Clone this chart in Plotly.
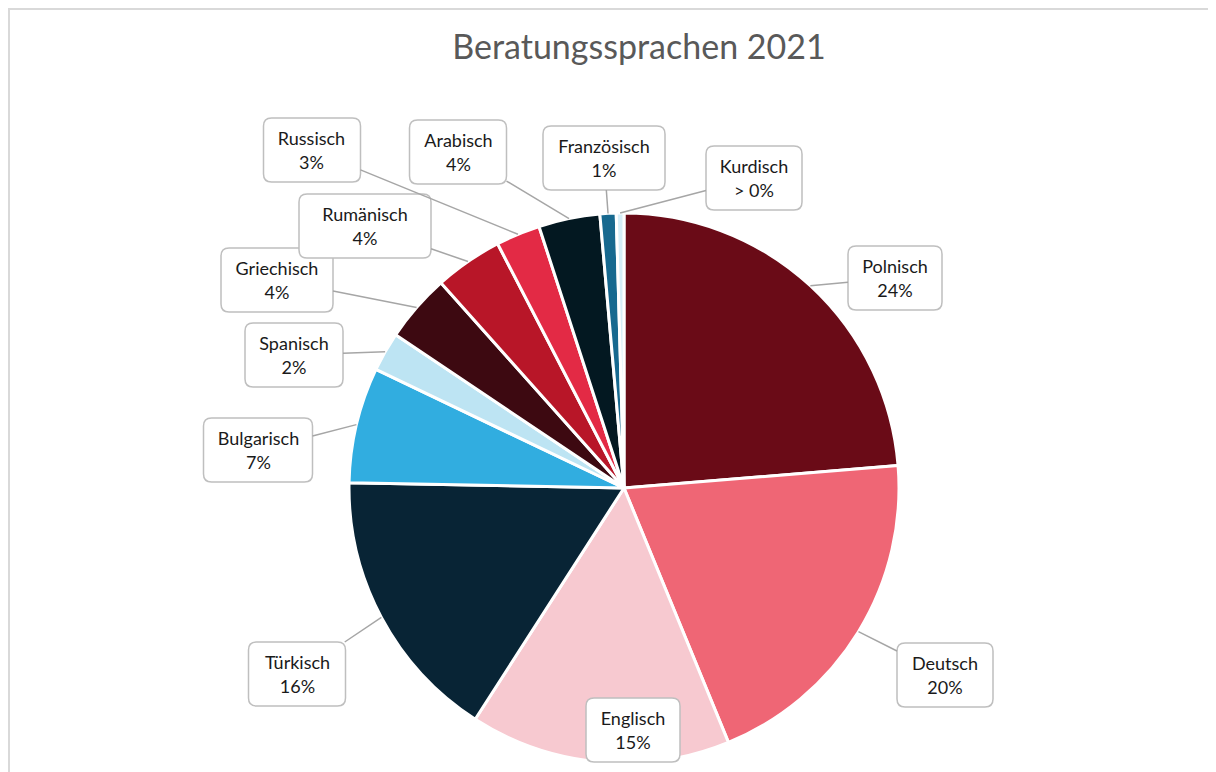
"""Kreisdiagramm: Beratungssprachen 2021."""

import numpy as np
import plotly.graph_objects as go

# --- Daten ---
sprachen = ["Polnisch", "Deutsch", "Englisch", "Türkisch", "Bulgarisch", "Spanisch",
            "Griechisch", "Rumänisch", "Russisch", "Arabisch", "Französisch", "Kurdisch"]
anteile = [23.7, 20.1, 15.3, 16.2, 6.8, 2.3, 4.0, 4.0, 2.6, 3.6, 0.95, 0.45]
anteil_text = ["24%", "20%", "15%", "16%", "7%", "2%", "4%", "4%", "3%", "4%", "1%", "> 0%"]
farben = ["#6A0B17", "#EF6675", "#F7C9D0", "#082435", "#31ADE0", "#BDE4F3",
          "#3D0911", "#B81628", "#E32A45", "#031821", "#17698F", "#D6EEF8"]

# --- Layout (Pixel im Fenster; die Seite hat 8 px Rand) ---
OFF = 8
W, H = 1216 - OFF, 772 - OFF
cx, cy, r = 624 - OFF, 488 - OFF, 275
# Mittelpunkt der Beschriftungsboxen und Boxbreite
box_pos = [(895, 278), (945, 675), (633, 730), (297, 674), (258, 450), (294, 355),
           (277, 280), (365, 226), (312, 150), (458, 152), (604, 158), (754, 178)]
box_w = [94, 96, 94, 97, 109, 98, 112, 132, 97, 97, 122, 96]
box_h = 64
mit_linie = [True, True, False, True, True, True, True, True, True, True, True, True]


def px2paper(x, y):
    return x / W, 1 - y / H


def rounded_box(a, b, k=8):
    """SVG-Pfad eines abgerundeten Rechtecks um (0, 0) in Pixeln."""
    return (f"M {-a + k},{-b} L {a - k},{-b} Q {a},{-b} {a},{-b + k} "
            f"L {a},{b - k} Q {a},{b} {a - k},{b} L {-a + k},{b} "
            f"Q {-a},{b} {-a},{b - k} L {-a},{-b + k} Q {-a},{-b} {-a + k},{-b} Z")


fig = go.Figure(go.Pie(
    labels=sprachen, values=anteile, sort=False, direction="clockwise", rotation=0,
    marker=dict(colors=farben, line=dict(color="white", width=3)),
    textinfo="none", hoverinfo="label+percent", showlegend=False,
    domain=dict(x=[(cx - r) / W, (cx + r) / W], y=[1 - (cy + r) / H, 1 - (cy - r) / H]),
))

# Beschriftungen mit Führungslinien
cum = np.cumsum([0] + anteile[:-1])
total = sum(anteile)
annotations, shapes = [], []
for name, wert, txt, start, (bx, by), bw, linie in zip(
        sprachen, anteile, anteil_text, cum, box_pos, box_w, mit_linie):
    bx, by = bx - OFF, by - OFF
    theta = 2 * np.pi * (start + wert / 2) / total
    px = cx + r * np.sin(theta)
    py = cy - r * np.cos(theta)
    bxp, byp = px2paper(bx, by)
    shapes.append(dict(
        type="path", xref="paper", yref="paper", xsizemode="pixel", ysizemode="pixel",
        xanchor=bxp, yanchor=byp, path=rounded_box(bw / 2, box_h / 2),
        fillcolor="white", line=dict(color="#BFBFBF", width=1.5), layer="above"))
    common = dict(
        text=f"{name}<br>{txt}", xref="paper", yref="paper",
        font=dict(family="Lato", size=18, color="#1a1a1a"),
        borderwidth=0, borderpad=0, width=bw, height=box_h,
        align="center", valign="middle",
    )
    if linie:
        x, y = px2paper(px, py)
        annotations.append(dict(
            x=x, y=y, ax=bx - px, ay=by - py,
            showarrow=True, arrowhead=0, arrowwidth=1.5, arrowcolor="#A6A6A6",
            **common))
    else:
        annotations.append(dict(x=bxp, y=byp, showarrow=False,
                                xanchor="center", yanchor="middle", **common))

# Rahmen des Diagramms
shapes.append(dict(type="rect", xref="paper", yref="paper",
                   x0=1 / W, x1=1.02, y0=-0.05, y1=1 - 1 / H,
                   line=dict(color="#D9D9D9", width=2), layer="below"))

tx, ty = px2paper(639 - OFF, 47 - OFF)
fig.update_layout(
    width=W, height=H,
    margin=dict(l=0, r=0, t=0, b=0),
    paper_bgcolor="white",
    title=dict(text="Beratungssprachen 2021", x=tx, xanchor="center",
               y=ty, yanchor="middle",
               font=dict(family="Lato", size=34, color="#595959")),
    annotations=annotations,
    shapes=shapes,
)

fig.write_html("out.html")
